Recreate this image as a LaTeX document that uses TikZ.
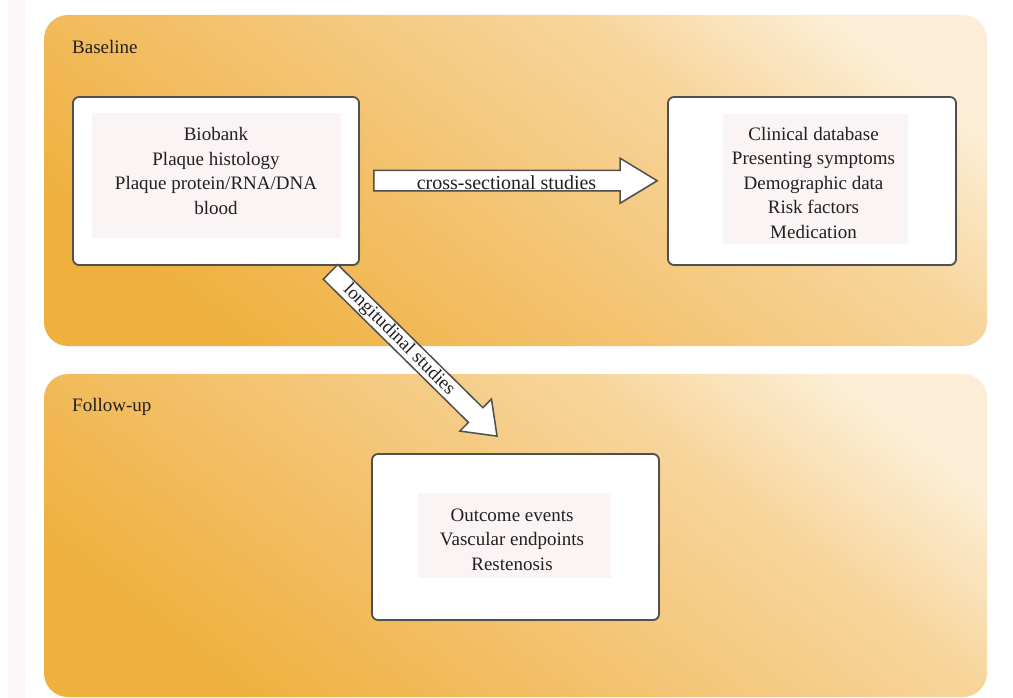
\documentclass[tikz,border=0pt]{standalone}
\usepackage{fontspec}
\setmainfont{Liberation Serif}
\usetikzlibrary{calc,shadows}
\definecolor{txt}{HTML}{231F20}
\definecolor{panelA}{RGB}{239,176,62}
\definecolor{panelM}{RGB}{244,197,118}
\definecolor{panelN}{RGB}{247,213,155}
\definecolor{panelB}{RGB}{252,238,214}
\definecolor{innerbg}{RGB}{250,245,244}
\definecolor{strip}{RGB}{251,247,247}
\definecolor{edge}{RGB}{80,80,80}
\pgfdeclareverticalshading{panelshade}{100bp}{color(0bp)=(panelA); color(25bp)=(panelA); color(48bp)=(panelM); color(64bp)=(panelN); color(77bp)=(panelB); color(100bp)=(panelB)}
\tikzset{
  panel/.style={rounded corners=24pt, shading=panelshade, shading angle=-38, draw=none, inner sep=0pt},
  box/.style={draw=edge, line width=1.8pt, fill=white, rounded corners=6pt, inner sep=0pt,
    drop shadow={opacity=0.3, shadow xshift=1pt, shadow yshift=-1pt}},
  innerbox/.style={fill=innerbg, inner sep=0pt},
  lbl/.style={text=txt, font=\fontsize{19}{24.5}\selectfont, align=center, inner sep=0pt},
  plbl/.style={text=txt, font=\fontsize{19}{23}\selectfont, inner sep=0pt, anchor=west},
  blockarrow/.style={draw=edge, line width=1.5pt, fill=white, line join=miter,
    drop shadow={opacity=0.3, shadow xshift=1pt, shadow yshift=-1pt}}
}
% #1 name, #2 start, #3 tip, #4 half shaft, #5 half head, #6 head length
\newcommand\blockarr[6]{%
  \coordinate (#1h) at ($(#3)!#6!(#2)$);
  \draw[blockarrow] ($(#2)!#4!90:(#3)$) -- ($(#1h)!#4!90:(#3)$) -- ($(#1h)!#5!90:(#3)$)
    -- (#3) -- ($(#1h)!#5!-90:(#3)$) -- ($(#1h)!#4!-90:(#3)$) -- ($(#2)!#4!-90:(#3)$) -- cycle;
}
\begin{document}
\begin{tikzpicture}[x=1pt,y=-1pt]
\useasboundingbox (0,0) rectangle (1013,698);
\fill[white] (0,0) rectangle (1013,698);
\fill[strip] (8,0) rectangle (25,698);

% panels
\node[panel, minimum width=943pt, minimum height=331pt] (p1) at (515.5,180.5) {};
\node[panel, minimum width=943pt, minimum height=323pt] (p2) at (515.5,535.5) {};
\node[plbl] (l1) at (72,47) {Baseline};
\node[plbl] (l2) at (72,407) {Follow-up};

% boxes
\node[box, minimum width=286pt, minimum height=168pt] (b1) at (216,181) {};
\node[box, minimum width=288pt, minimum height=168pt] (b2) at (812,181) {};
\node[box, minimum width=287pt, minimum height=166pt] (b3) at (515.5,537) {};

\node[innerbox, minimum width=249pt, minimum height=125pt] (i1) at (216.5,175.5) {};
\node[innerbox, minimum width=185pt, minimum height=130pt] (i2) at (815.5,179) {};
\node[innerbox, minimum width=193pt, minimum height=85pt] (i3) at (514.5,535.5) {};

\node[lbl] (t1) at (216,171) {Biobank\\Plaque histology\\Plaque protein/RNA/DNA\\blood};
\node[lbl] (t2) at (813.5,183) {Clinical database\\Presenting symptoms\\Demographic data\\Risk factors\\Medication};
\node[lbl] (t3) at (512,539.5) {Outcome events\\Vascular endpoints\\Restenosis};

% block arrows
\coordinate (a1s) at ($(b1.east)+(14,-0.3)$);
\coordinate (a1t) at ($(b2.west)+(-10,-0.3)$);
\blockarr{a1}{a1s}{a1t}{10.3pt}{22.5pt}{37pt}
\node[lbl, font=\fontsize{20}{24}\selectfont] (c1) at (506.5,183) {cross-sectional studies};

\coordinate (a2s) at ($(b1.south)+(114.5,6)$);
\coordinate (a2t) at ($(b3.north)+(-18.5,-17)$);
\blockarr{a2}{a2s}{a2t}{10.3pt}{22.5pt}{30pt}
\node[lbl, rotate=-45] (c2) at (399,340) {longitudinal studies};
\end{tikzpicture}
\end{document}
